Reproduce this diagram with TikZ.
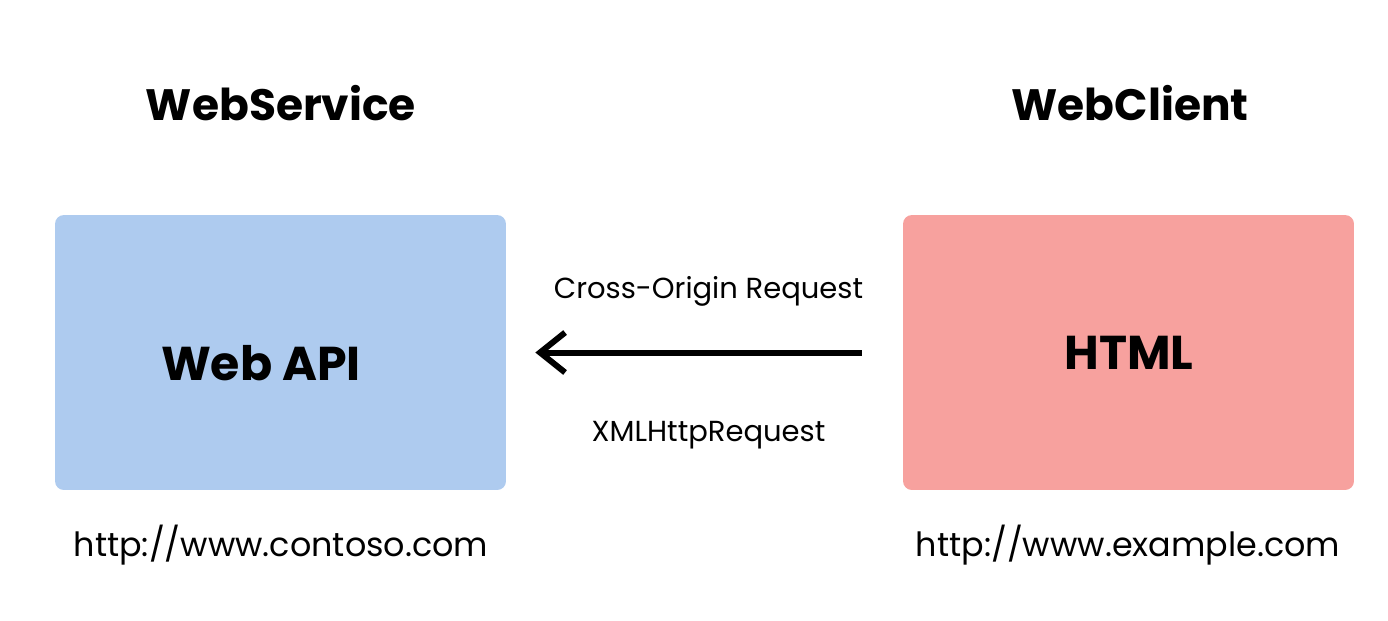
\documentclass[tikz,border=0pt]{standalone}
\usepackage{fontspec}
\setmainfont{Poppins}
\usetikzlibrary{arrows.meta, positioning}

\definecolor{apiblue}{RGB}{174,203,239}
\definecolor{htmlred}{RGB}{247,161,158}

\begin{document}
\begin{tikzpicture}[x=0.02cm,y=-0.02cm,
  site box/.style={rectangle,rounded corners=5pt,minimum width=9.02cm,minimum height=5.5cm,inner sep=0pt},
  title/.style={font=\fontsize{25}{30}\selectfont\bfseries},
  inner text/.style={font=\fontsize{27}{32}\selectfont\bfseries},
  url/.style={font=\fontsize{19}{23}\selectfont},
  call/.style={font=\fontsize{16.5}{20}\selectfont}]

  \useasboundingbox (0,0) rectangle (1388,620);

  \node[site box, fill=apiblue] (api) at (280.5,352.5) {};
  \node[site box, fill=htmlred] (html) at (1128.5,352.5) {};

  \node[title] (service) at (281,103) {WebService};
  \node[title] (client) at (1130,103) {WebClient};

  \node[inner text] (webapi) at (261,363) {Web API};
  \node[inner text] (page) at (1129,353) {HTML};

  \node[url] (contoso) at (281,545) {http://www.contoso.com};
  \node[url] (example) at (1128,545) {http://www.example.com};

  \draw[-{Straight Barb[length=0.5cm,width=0.8cm]}, line width=3.4pt,
    shorten <=0.82cm, shorten >=0.58cm] (html.west) -- (api.east)
    node[call, midway, above=0.75cm, xshift=0.08cm] (cors) {Cross-Origin Request}
    node[call, midway, below=1.2cm, xshift=0.08cm] (xhr) {XMLHttpRequest};
\end{tikzpicture}
\end{document}
